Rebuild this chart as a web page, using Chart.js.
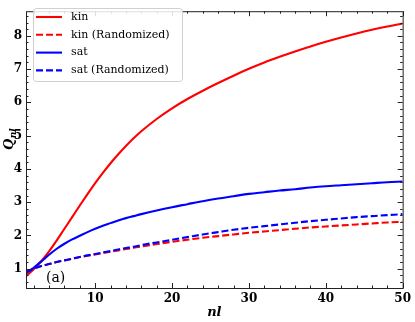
<!DOCTYPE html>
<html>
<head>
<meta charset="utf-8">
<script src="https://cdn.jsdelivr.net/npm/chart.js@4.4.1/dist/chart.umd.min.js"></script>
<style>
html, body { margin: 0; padding: 0; background: #fff; }
#wrap { width: 415px; height: 322px; }
</style>
</head>
<body>
<div id="wrap"><canvas id="qnl" width="415" height="322"></canvas></div>
<script>
// values
var nl = [1, 2, 3, 4, 5, 6, 7, 8, 9, 10, 11, 12, 13, 14, 15, 16, 18, 20, 22, 24, 26, 28, 30, 32, 34, 36, 38, 40, 42, 44, 46, 48, 50];
var kin = [0.78, 0.98, 1.23, 1.52, 1.85, 2.2, 2.55, 2.9, 3.24, 3.57, 3.88, 4.17, 4.44, 4.69, 4.92, 5.13, 5.5, 5.82, 6.1, 6.35, 6.58, 6.8, 7.01, 7.2, 7.37, 7.53, 7.68, 7.82, 7.95, 8.07, 8.18, 8.28, 8.37];
var kinRand = [0.9, 1.0, 1.08, 1.14, 1.2, 1.25, 1.3, 1.35, 1.39, 1.43, 1.47, 1.51, 1.55, 1.59, 1.63, 1.67, 1.74, 1.81, 1.87, 1.93, 1.98, 2.03, 2.08, 2.12, 2.16, 2.2, 2.24, 2.27, 2.3, 2.33, 2.36, 2.39, 2.41];
var sat = [0.86, 1.03, 1.22, 1.42, 1.6, 1.75, 1.88, 1.99, 2.1, 2.2, 2.29, 2.37, 2.45, 2.52, 2.58, 2.64, 2.75, 2.85, 2.94, 3.03, 3.11, 3.18, 3.25, 3.3, 3.35, 3.39, 3.44, 3.48, 3.51, 3.54, 3.57, 3.6, 3.62];
var satRand = [0.9, 1.0, 1.08, 1.14, 1.2, 1.25, 1.3, 1.35, 1.4, 1.44, 1.49, 1.53, 1.58, 1.62, 1.66, 1.71, 1.79, 1.87, 1.95, 2.03, 2.1, 2.17, 2.23, 2.28, 2.33, 2.38, 2.43, 2.47, 2.51, 2.55, 2.58, 2.61, 2.64];
var xTicks = [10, 20, 30, 40, 50];
var yTicks = [1, 2, 3, 4, 5, 6, 7, 8];

function pts(ys) {
    return nl.map(function (x, i) { return { x: x, y: ys[i] }; });
}

function serie(label, ys, color, dashed, order) {
    return {
        label: label,
        data: pts(ys),
        borderColor: color,
        backgroundColor: color,
        borderWidth: 2.1,
        borderDash: dashed ? [7, 3] : [],
        pointRadius: 0,
        cubicInterpolationMode: 'monotone',
        fill: false,
        order: order
    };
}

var tickFont = { family: 'DejaVu Serif', size: 12, weight: 'bold' };

// frame, inward ticks, legend box, y title and panel tag
var decor = {
    id: 'decor',
    afterDatasetsDraw: function (chart) {
        var ctx = chart.ctx, a = chart.chartArea;
        var xs = chart.scales.x, ys = chart.scales.y;
        ctx.save();
        ctx.strokeStyle = '#222';
        ctx.lineWidth = 1;
        ctx.beginPath();

        function xt(v, len) {
            var p = Math.round(xs.getPixelForValue(v)) + 0.5;
            ctx.moveTo(p, a.bottom); ctx.lineTo(p, a.bottom - len);
            ctx.moveTo(p, a.top); ctx.lineTo(p, a.top + len);
        }
        function yt(v, len) {
            var p = Math.round(ys.getPixelForValue(v)) + 0.5;
            ctx.moveTo(a.left, p); ctx.lineTo(a.left + len, p);
            ctx.moveTo(a.right, p); ctx.lineTo(a.right - len, p);
        }
        for (var v = 2; v <= 50; v += 2) xt(v, xTicks.indexOf(v) >= 0 ? 5 : 2.5);
        for (var k = 3; k <= 43; k++) {
            var yv = k / 5;
            if (yv < ys.min || yv > ys.max) continue;
            yt(yv, k % 5 === 0 ? 5 : 2.5);
        }
        ctx.stroke();
        ctx.strokeRect(a.left + 0.5, a.top + 0.5, a.right - a.left, a.bottom - a.top);

        // legend
        var lx = 33, ly = 8, lw = 149, lh = 73;
        ctx.beginPath();
        ctx.roundRect(lx + 0.5, ly + 0.5, lw, lh, 3);
        ctx.fillStyle = 'rgba(255,255,255,0.85)';
        ctx.fill();
        ctx.strokeStyle = '#d0d0d0';
        ctx.stroke();
        ctx.font = '11px "DejaVu Serif"';
        ctx.textBaseline = 'middle';
        ctx.fillStyle = '#000';
        chart.data.datasets.forEach(function (ds, i) {
            var y = 17 + i * 17.8;
            ctx.beginPath();
            ctx.strokeStyle = ds.borderColor;
            ctx.lineWidth = 2.1;
            ctx.setLineDash(ds.borderDash);
            ctx.moveTo(36, y); ctx.lineTo(62, y);
            ctx.stroke();
            ctx.setLineDash([]);
            ctx.fillText(ds.label, 71, y);
        });

        // y title Q_nl
        ctx.save();
        ctx.translate(13, 150);
        ctx.rotate(-Math.PI / 2);
        ctx.textBaseline = 'alphabetic';
        ctx.font = 'italic bold 13px "DejaVu Serif"';
        ctx.fillText('Q', 0, 0);
        var qw = ctx.measureText('Q').width;
        ctx.font = 'italic bold 9px "DejaVu Serif"';
        ctx.fillText('nl', qw + 0.5, 3);
        ctx.restore();

        // panel tag
        ctx.font = '14px "DejaVu Serif"';
        ctx.textBaseline = 'middle';
        ctx.fillText('(a)', 46, 278);
        ctx.restore();
    }
};

new Chart(document.getElementById('qnl'), {
    type: 'line',
    data: {
        datasets: [
            serie('kin', kin, '#ff0000', false, 4),
            serie('kin (Randomized)', kinRand, '#ff0000', true, 3),
            serie('sat', sat, '#0000ff', false, 2),
            serie('sat (Randomized)', satRand, '#0000ff', true, 1)
        ]
    },
    options: {
        responsive: false,
        animation: false,
        maintainAspectRatio: false,
        layout: { padding: { left: 0, top: 3, right: 11, bottom: 0 } },
        plugins: { legend: { display: false }, tooltip: { enabled: false } },
        scales: {
            x: {
                type: 'linear',
                min: 1, max: 50,
                grid: { display: false, drawTicks: false },
                border: { display: false },
                afterBuildTicks: function (s) { s.ticks = xTicks.map(function (v) { return { value: v }; }); },
                afterFit: function (s) { s.height = 34; },
                ticks: { font: tickFont, color: '#000', padding: 4, maxRotation: 0, autoSkip: false },
                title: { display: true, text: 'nl', color: '#000', font: { family: 'DejaVu Serif', size: 13, weight: 'bold', style: 'italic' }, padding: { top: 0, bottom: 2 } }
            },
            y: {
                min: 0.42, max: 8.74,
                grid: { display: false, drawTicks: false },
                border: { display: false },
                afterBuildTicks: function (s) { s.ticks = yTicks.map(function (v) { return { value: v }; }); },
                afterFit: function (s) { s.width = 26; },
                ticks: { font: tickFont, color: '#000', padding: 4, autoSkip: false }
            }
        }
    },
    plugins: [decor]
});
</script>
</body>
</html>
